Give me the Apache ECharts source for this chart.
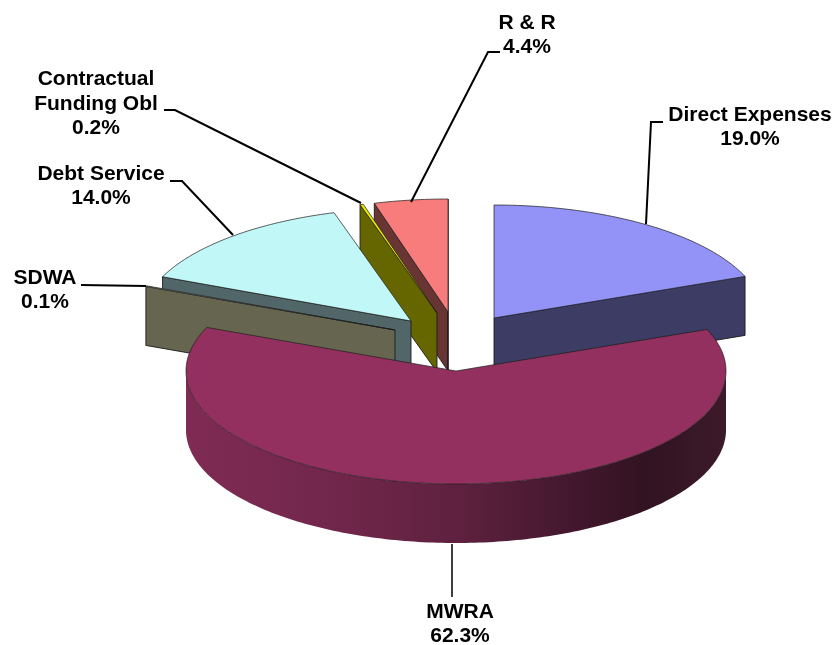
<!DOCTYPE html>
<html>
<head>
<meta charset="utf-8">
<style>html,body{margin:0;padding:0;background:#fff}#c{width:835px;height:645px}</style>
<script src="https://cdn.jsdelivr.net/npm/echarts@6/dist/echarts.min.js"></script>
</head>
<body>
<div id="c"></div>
<script>
// ---- data
const categories = ['Direct Expenses', 'MWRA', 'SDWA', 'Debt Service', 'Contractual\nFunding Obl', 'R & R'];
const values = [19.0, 62.3, 0.1, 14.0, 0.2, 4.4];

// ---- layout and style (per slice, same order as categories)
const apexX = [494, 456, 395, 411, 437, 448];
const apexY = [318, 371, 330, 321, 313, 312];
const topColors = ['#9292f7', '#93305f', '#d8d8c0', '#c2f7f7', '#e8e800', '#f87c7c'];
const wallColors = ['#3c3c64', '#5c2040', '#666650', '#506668', '#666600', '#693434'];
const paintOrder = [0, 5, 4, 3, 2, 1];
const labelX = [750, 460, 45, 101, 96, 527];
const labelY = [127, 624, 290, 186, 104, 35];
const leaders = [
  [[663, 122], [651, 122], [646, 224]],
  [[452, 544], [452, 597]],
  [[81, 285], [146, 286]],
  [[170, 181], [182, 181], [233, 235]],
  [[164, 110], [175, 110], [361, 203]],
  [[500, 52], [488, 52], [411, 202]]
];
const radiusX = 270, radiusY = 113, depth = 59;
const lineColor = '#1c1c1c';

const total = values.reduce((a, b) => a + b, 0);
const startAngles = [];
values.reduce((acc, v, i) => { startAngles[i] = acc; return acc + v / total * 360; }, 0);

function rimPoint(i, deg, drop) {
  const r = deg * Math.PI / 180;
  return [apexX[i] + radiusX * Math.sin(r), apexY[i] - radiusY * Math.cos(r) + drop];
}
function arcPoints(i, from, to, drop) {
  const pts = [], n = Math.max(1, Math.ceil(Math.abs(to - from)));
  for (let k = 0; k <= n; k++) pts.push(rimPoint(i, from + (to - from) * k / n, drop));
  return pts;
}
const mwraSide = new echarts.graphic.LinearGradient(0, 0, 1, 0, [
  { offset: 0, color: '#7f2b54' }, { offset: 0.12, color: '#7a2950' },
  { offset: 0.3, color: '#6f264a' }, { offset: 0.5, color: '#5f213f' },
  { offset: 0.7, color: '#451830' }, { offset: 0.85, color: '#321321' },
  { offset: 1, color: '#3c1a2a' }
]);

function renderSlice(params, api) {
  const i = api.value(0);
  const sweep = api.value(1) / total * 360;
  const a0 = startAngles[i], a1 = a0 + sweep;
  const z = paintOrder.indexOf(i) * 10 + 1;
  const kids = [];
  const base = { stroke: lineColor, lineWidth: 0.7 };
  const wall = (deg, color) => kids.push({
    type: 'polygon', z2: z,
    shape: { points: [[apexX[i], apexY[i]], rimPoint(i, deg, 0), rimPoint(i, deg, depth), [apexX[i], apexY[i] + depth]] },
    style: { fill: color, stroke: lineColor, lineWidth: 0.9 }
  });
  if (Math.sin(a0 * Math.PI / 180) < 0) wall(a0, wallColors[i]);
  if (Math.sin(a1 * Math.PI / 180) > 0) wall(a1, wallColors[i]);
  const lo = Math.max(a0, 90), hi = Math.min(a1, 270);
  if (hi > lo) {
    kids.push({
      type: 'polygon', z2: z + 1,
      shape: { points: arcPoints(i, lo, hi, 0).concat(arcPoints(i, hi, lo, depth)) },
      style: { fill: i === 1 ? mwraSide : wallColors[i], stroke: null }
    });
  }
  kids.push({
    type: 'polygon', z2: z + 2,
    shape: { points: [[apexX[i], apexY[i]]].concat(arcPoints(i, a0, a1, 0)) },
    style: Object.assign({ fill: topColors[i] }, base)
  });
  kids.push({
    type: 'polyline', z2: 100,
    shape: { points: leaders[i] },
    style: { fill: null, stroke: '#000', lineWidth: i === 1 ? 1.5 : 2 }
  });
  kids.push({
    type: 'text', z2: 101,
    style: {
      text: categories[i] + '\n' + api.value(1).toFixed(1) + '%',
      x: labelX[i], y: labelY[i], align: 'center', verticalAlign: 'middle',
      textAlign: 'center', textVerticalAlign: 'middle',
      fill: '#000', font: 'bold 21px "Liberation Sans"', lineHeight: 24.5
    }
  });
  return { type: 'group', children: kids };
}

const chart = echarts.init(document.getElementById('c'), null, { renderer: 'canvas' });
chart.setOption({
  animation: false,
  backgroundColor: '#fff',
  series: [{
    type: 'custom',
    coordinateSystem: 'none',
    silent: true,
    renderItem: renderSlice,
    data: values.map((v, i) => [i, v])
  }]
});
</script>
</body>
</html>
